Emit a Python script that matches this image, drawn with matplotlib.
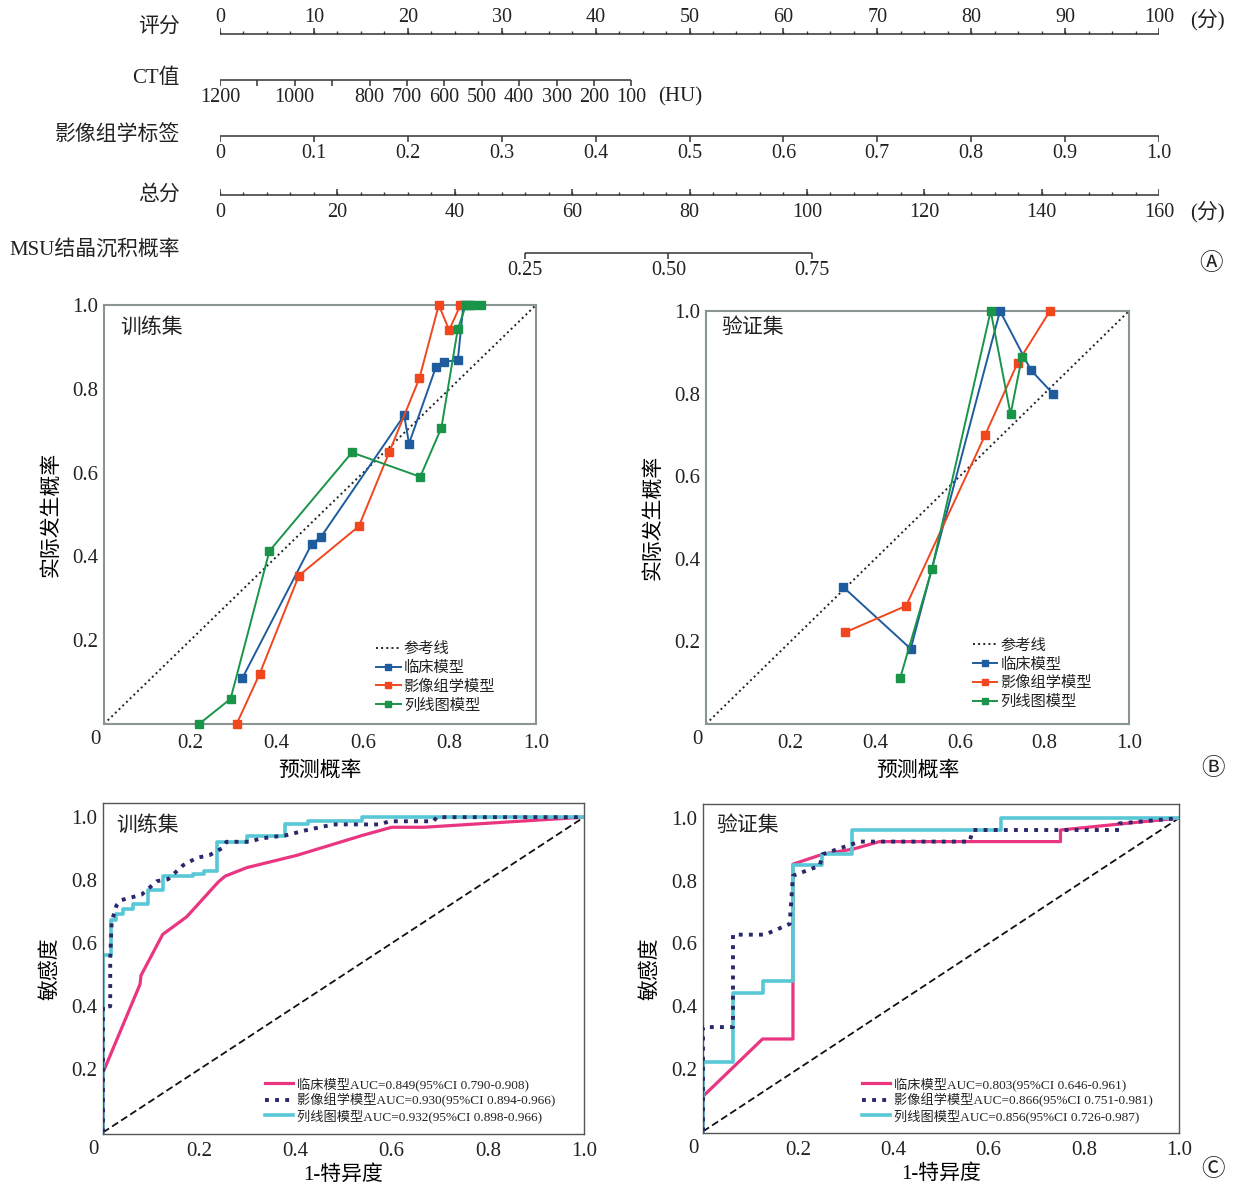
import numpy as np
import matplotlib
matplotlib.use("Agg")
import matplotlib.pyplot as plt


W, H = 1237, 1188

plt.rcParams['font.family'] = ['Liberation Serif', 'Noto Sans CJK SC', 'DejaVu Sans']
plt.rcParams['text.color'] = '#222222'


#################### DATA ####################

# nomogram scales
score_ticks = [0, 10, 20, 30, 40, 50, 60, 70, 80, 90, 100]
ct_ticks = [1200, 1100, 1000, 900, 800, 700, 600, 500, 400, 300, 200, 100]
ct_labels = ['1200', '', '1000', '', '800', '700', '600', '500', '400', '300', '200', '100']
rad_ticks = [0, 0.1, 0.2, 0.3, 0.4, 0.5, 0.6, 0.7, 0.8, 0.9, 1.0]
rad_labels = ['0', '0.1', '0.2', '0.3', '0.4', '0.5', '0.6', '0.7', '0.8', '0.9', '1.0']
total_ticks = [0, 20, 40, 60, 80, 100, 120, 140, 160]
msu_ticks = [0.25, 0.50, 0.75]
msu_labels = ['0.25', '0.50', '0.75']

# calibration, training set
cal_train_clin_x = [0.320, 0.481, 0.502, 0.695, 0.706, 0.768, 0.788, 0.819, 0.832, 0.848]
cal_train_clin_y = [0.109, 0.430, 0.446, 0.737, 0.669, 0.851, 0.865, 0.868, 1.0, 1.0]
cal_train_rad_x = [0.307, 0.360, 0.451, 0.590, 0.660, 0.730, 0.775, 0.799, 0.825]
cal_train_rad_y = [0.0, 0.119, 0.354, 0.472, 0.648, 0.825, 1.0, 0.940, 1.0]
cal_train_nom_x = [0.220, 0.293, 0.383, 0.574, 0.732, 0.781, 0.819, 0.838, 0.855, 0.873]
cal_train_nom_y = [0.0, 0.060, 0.413, 0.648, 0.590, 0.707, 0.943, 1.0, 1.0, 1.0]

# calibration, validation set
cal_val_clin_x = [0.324, 0.484, 0.695, 0.768, 0.820]
cal_val_clin_y = [0.332, 0.182, 1.0, 0.857, 0.800]
cal_val_rad_x = [0.329, 0.473, 0.660, 0.737, 0.813]
cal_val_rad_y = [0.222, 0.286, 0.700, 0.875, 1.0]
cal_val_nom_x = [0.459, 0.534, 0.673, 0.720, 0.747]
cal_val_nom_y = [0.111, 0.375, 1.0, 0.750, 0.889]

# ROC, training set
roc_train_clin_fpr = [0, 0, 0.077, 0.079, 0.124, 0.174, 0.202, 0.240, 0.254, 0.299, 0.403, 0.541, 0.600, 0.667, 1.0]
roc_train_clin_tpr = [0, 0.190, 0.470, 0.498, 0.628, 0.684, 0.731, 0.795, 0.813, 0.840, 0.879, 0.943, 0.968, 0.968, 1.0]
roc_train_rad_fpr = [0, 0, 0.015, 0.015, 0.018, 0.028, 0.038, 0.080, 0.112, 0.135, 0.167, 0.195, 0.222,
                     0.247, 0.257, 0.306, 0.326, 0.382, 0.423, 0.479, 0.576, 0.595, 0.687, 0.694, 1.0]
roc_train_rad_tpr = [0, 0.400, 0.400, 0.551, 0.668, 0.720, 0.737, 0.754, 0.797, 0.803, 0.848, 0.871, 0.880,
                     0.901, 0.922, 0.922, 0.932, 0.943, 0.959, 0.977, 0.977, 0.987, 0.987, 1.0, 1.0]
roc_train_nom_fpr = [0, 0.016, 0.028, 0.042, 0.063, 0.094, 0.124, 0.188, 0.209, 0.238, 0.299, 0.378, 0.427, 0.538, 1.0]
roc_train_nom_tpr = [0, 0.564, 0.673, 0.694, 0.710, 0.726, 0.768, 0.813, 0.821, 0.830, 0.922, 0.941, 0.977, 0.987, 1.0]

# ROC, validation set
roc_val_clin_fpr = [0, 0, 0.125, 0.189, 0.189, 0.252, 0.315, 0.371, 0.751, 0.751, 0.875, 1.0]
roc_val_clin_tpr = [0, 0.112, 0.295, 0.295, 0.853, 0.885, 0.901, 0.925, 0.925, 0.962, 0.981, 1.0]
roc_val_rad_fpr = [0, 0, 0.063, 0.063, 0.130, 0.182, 0.189, 0.245, 0.252, 0.329, 0.560, 0.567, 0.875, 0.875, 1.0]
roc_val_rad_tpr = [0, 0.333, 0.333, 0.628, 0.628, 0.662, 0.816, 0.848, 0.885, 0.925, 0.925, 0.962, 0.962, 0.983, 1.0]
roc_val_nom_fpr = [0, 0.063, 0.125, 0.189, 0.251, 0.314, 0.625, 1.0]
roc_val_nom_tpr = [0, 0.221, 0.442, 0.479, 0.851, 0.887, 0.962, 1.0]

model_names = ['临床模型', '影像组学模型', '列线图模型']
auc_train = ['AUC=0.849(95%CI 0.790-0.908)', 'AUC=0.930(95%CI 0.894-0.966)', 'AUC=0.932(95%CI 0.898-0.966)']
auc_val = ['AUC=0.803(95%CI 0.646-0.961)', 'AUC=0.866(95%CI 0.751-0.981)', 'AUC=0.856(95%CI 0.726-0.987)']

CAL_COLORS = ['#1f5c9e', '#f0471f', '#1a9448']
ROC_COLORS = ['#ea3580', '#28286a', '#58c8d6']
LINE = '#333333'


#################### NOMOGRAM ####################

def ct_to_pts(v):
    return (1200 - v) / 1100 * 43.8


def total_to_pts(v):
    return v / 160 * 100


def msu_to_pts(p):
    logit = np.log(p / (1 - p))
    return total_to_pts(76.4 + 22.2 * logit)


def draw_scale(ax, y, values, labels, to_pts, ticks_up, labels_above, minor=None):
    pts = [to_pts(v) for v in values]
    ax.plot([min(pts), max(pts)], [y, y], color=LINE, lw=1.1, solid_capstyle='butt')
    sign = -1 if ticks_up else 1
    ax.vlines(pts, y, y + sign * 6, color=LINE, lw=1.1)
    if minor is not None:
        ax.vlines([to_pts(v) for v in minor], y, y + sign * 3.5, color=LINE, lw=1.0)
    ly = y - 16 if labels_above else y + 17
    for p, lab in zip(pts, labels):
        ax.text(p, ly, lab, ha='center', va='center', fontsize=14.5)


fig = plt.figure(figsize=(W / 100, H / 100), dpi=100)

ax0 = fig.add_axes([220 / W, 1 - 290 / H, 939 / W, 290 / H])
ax0.set_xlim(0, 100)
ax0.set_ylim(290, 0)
ax0.axis('off')

draw_scale(ax0, 34, score_ticks, [str(v) for v in score_ticks], lambda v: v, True, True,
           minor=np.arange(0, 100.01, 2.5))
draw_scale(ax0, 80, ct_ticks, ct_labels, ct_to_pts, False, False)
draw_scale(ax0, 136, rad_ticks, rad_labels, lambda v: v * 100, False, False)
draw_scale(ax0, 195, total_ticks, [str(v) for v in total_ticks], total_to_pts, True, False,
           minor=np.arange(0, 160.01, 4))
draw_scale(ax0, 253, msu_ticks, msu_labels, msu_to_pts, False, False)

# row names
row_names = ['评分', 'CT值', '影像组学标签', '总分', 'MSU结晶沉积概率']
row_y = [27, 78, 135, 195, 250]
for name, y in zip(row_names, row_y):
    ax0.text(-4.3, y, name, ha='right', va='center', fontsize=15, clip_on=False)

ax0.text(105.2, 20, '(分)', ha='center', va='center', fontsize=15, clip_on=False)
ax0.text(105.2, 212, '(分)', ha='center', va='center', fontsize=15, clip_on=False)
ax0.text(49.0, 97, '(HU)', ha='center', va='center', fontsize=15, clip_on=False)

fig.text(1211 / W, 1 - 264 / H, 'Ⓐ', ha='center', va='center', fontsize=17)


#################### CALIBRATION ####################

def calibration(ax, xs, ys, title, title_y, leg_anchor):
    ax.plot([0, 1], [0, 1], color='#222222', ls=':', lw=1.4, label='参考线')
    for x, y, c, name in zip(xs, ys, CAL_COLORS, model_names):
        ax.plot(x, y, color=c, lw=1.4, marker='s', ms=5.5, label=name, clip_on=False, zorder=3)
    ax.set_xlim(0, 1)
    ax.set_ylim(0, 1)
    ticks = [0.2, 0.4, 0.6, 0.8, 1.0]
    ax.set_xticks(ticks)
    ax.set_yticks(ticks)
    ax.set_xticklabels(['0.2', '0.4', '0.6', '0.8', '1.0'])
    ax.set_yticklabels(['0.2', '0.4', '0.6', '0.8', '1.0'])
    ax.tick_params(length=0, labelsize=15, colors='#222222')
    ax.tick_params(axis='x', pad=7)
    ax.tick_params(axis='y', pad=4)
    for s in ax.spines.values():
        s.set_color('#8a9494')
        s.set_linewidth(1.5)
    ax.annotate('0', xy=(0, 0), xycoords='axes fraction', xytext=(-6.5, -11),
                textcoords='offset points', ha='center', va='center', fontsize=15)
    ax.text(0.037, title_y, title, transform=ax.transAxes, ha='left', va='center', fontsize=15)
    ax.set_xlabel('预测概率', fontsize=15, labelpad=6)
    ax.set_ylabel('实际发生概率', fontsize=15, labelpad=8)
    ax.legend(loc='upper left', bbox_to_anchor=leg_anchor, frameon=False, fontsize=11,
              handlelength=1.6, handletextpad=0.2, labelspacing=0.3, borderpad=0,
              borderaxespad=0, numpoints=1, markerscale=0.75)


ax1 = fig.add_axes([104 / W, 1 - 724 / H, 432 / W, 419 / H])
calibration(ax1,
            [cal_train_clin_x, cal_train_rad_x, cal_train_nom_x],
            [cal_train_clin_y, cal_train_rad_y, cal_train_nom_y],
            '训练集', 0.945, (0.63, 0.196))

ax2 = fig.add_axes([706 / W, 1 - 724 / H, 423 / W, 413 / H])
calibration(ax2,
            [cal_val_clin_x, cal_val_rad_x, cal_val_nom_x],
            [cal_val_clin_y, cal_val_rad_y, cal_val_nom_y],
            '验证集', 0.959, (0.631, 0.207))

fig.text(1213 / W, 1 - 769 / H, 'Ⓑ', ha='center', va='center', fontsize=17)


#################### ROC ####################

def roc(ax, curves, aucs, title, title_y, leg_anchor):
    ax.plot([0, 1], [0, 1], color='#111111', ls=(0, (4, 2)), lw=1.3)
    clin, rad, nom = curves
    ax.plot(clin[0], clin[1], color=ROC_COLORS[0], lw=2.3, label=model_names[0] + aucs[0])
    ax.plot(rad[0], rad[1], color=ROC_COLORS[1], lw=2.8, ls=(0, (1, 1.6)),
            label=model_names[1] + aucs[1], zorder=2.6)
    ax.plot(nom[0], nom[1], color=ROC_COLORS[2], lw=2.6, drawstyle='steps-pre',
            label=model_names[2] + aucs[2], zorder=2.5)
    ax.set_xlim(0, 1)
    ax.set_ylim(-0.005, 1.045)
    ticks = [0.2, 0.4, 0.6, 0.8, 1.0]
    ax.set_xticks(ticks)
    ax.set_yticks(ticks)
    ax.set_xticklabels(['0.2', '0.4', '0.6', '0.8', '1.0'])
    ax.set_yticklabels(['0.2', '0.4', '0.6', '0.8', '1.0'])
    ax.tick_params(length=0, labelsize=15, colors='#222222')
    ax.tick_params(axis='x', pad=6)
    ax.tick_params(axis='y', pad=4)
    for s in ax.spines.values():
        s.set_color('#555555')
        s.set_linewidth(1.0)
    ax.annotate('0', xy=(0, 0), xycoords='axes fraction', xytext=(-7, -11),
                textcoords='offset points', ha='center', va='center', fontsize=15)
    ax.text(0.028, title_y, title, transform=ax.transAxes, ha='left', va='center', fontsize=15)
    ax.set_xlabel('1-特异度', fontsize=15, labelpad=3)
    ax.set_ylabel('敏感度', fontsize=15, labelpad=8)
    ax.legend(loc='upper left', bbox_to_anchor=leg_anchor, frameon=False, fontsize=9.5,
              handlelength=2.1, handletextpad=0.3, labelspacing=0.15, borderpad=0,
              borderaxespad=0)


ax3 = fig.add_axes([103 / W, 1 - 1134 / H, 481 / W, 331 / H])
roc(ax3,
    [(roc_train_clin_fpr, roc_train_clin_tpr), (roc_train_rad_fpr, roc_train_rad_tpr),
     (roc_train_nom_fpr, roc_train_nom_tpr)],
    auc_train, '训练集', 0.931, (0.337, 0.172))

ax4 = fig.add_axes([703 / W, 1 - 1133 / H, 476 / W, 329 / H])
roc(ax4,
    [(roc_val_clin_fpr, roc_val_clin_tpr), (roc_val_rad_fpr, roc_val_rad_tpr),
     (roc_val_nom_fpr, roc_val_nom_tpr)],
    auc_val, '验证集', 0.934, (0.334, 0.170))

fig.text(1213 / W, 1 - 1170 / H, 'Ⓒ', ha='center', va='center', fontsize=17)

plt.savefig('out.png', dpi=100)
plt.close()
